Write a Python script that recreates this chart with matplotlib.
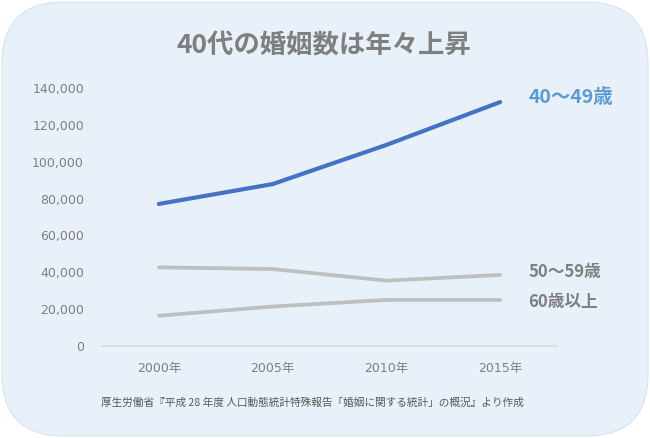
import matplotlib
matplotlib.use("Agg")
import matplotlib.pyplot as plt
from matplotlib.patches import FancyBboxPatch
from matplotlib.ticker import FuncFormatter

# data
years = ["2000年", "2005年", "2010年", "2015年"]
age_40s = [77100, 87900, 109200, 132500]
age_50s = [42600, 41700, 35400, 38500]
age_60s = [16300, 21300, 24900, 24900]

title = "40代の婚姻数は年々上昇"
source = "厚生労働省『平成 28 年度 人口動態統計特殊報告「婚姻に関する統計」の概況』より作成"

jp = "Noto Sans CJK JP"
mixed = ["DejaVu Sans", jp]
gray_text = "#7F7F7F"

fig = plt.figure(figsize=(6.5, 4.38), dpi=100, facecolor="white")

# rounded light-blue panel behind everything
panel = FancyBboxPatch((0.02, 0.02), 6.46, 4.34,
                       boxstyle="round,pad=0,rounding_size=0.62",
                       transform=fig.dpi_scale_trans,
                       facecolor="#E8F1FA", edgecolor="#D5E3F1", linewidth=0.8,
                       zorder=-1)
fig.patches.append(panel)

ax = fig.add_axes([102 / 650, (438 - 345.7) / 438, 455 / 650, 257.4 / 438])
ax.set_facecolor("none")

x = range(len(years))
ax.plot(x, age_40s, color="#4472C4", lw=3.0, solid_capstyle="round")
ax.plot(x, age_50s, color="#BFBFBF", lw=2.7, solid_capstyle="round")
ax.plot(x, age_60s, color="#BFBFBF", lw=2.7, solid_capstyle="round")

ax.set_xlim(-0.5, len(years) - 0.5)
ax.set_ylim(0, 140000)
ax.set_yticks(range(0, 140001, 20000))
ax.yaxis.set_major_formatter(FuncFormatter(lambda v, p: f"{int(v):,}"))
ax.set_xticks(list(x))
ax.set_xticklabels(years)

for s in ["top", "right", "left"]:
    ax.spines[s].set_visible(False)
ax.spines["bottom"].set_color("#D9D9D9")
ax.spines["bottom"].set_linewidth(1.2)
ax.tick_params(axis="both", length=0, colors=gray_text)
ax.tick_params(axis="y", pad=13)
ax.tick_params(axis="x", pad=12)
for lbl in ax.get_yticklabels() + ax.get_xticklabels():
    lbl.set_family(mixed)
    lbl.set_fontsize(9)

# series labels at the right end
ax.text(3.25, age_40s[-1] + 2700, "40〜49歳", color="#5B9BD5", fontsize=14,
        fontweight="bold", family=jp, va="center", ha="left", clip_on=False)
ax.text(3.25, age_50s[-1] + 1600, "50〜59歳", color=gray_text, fontsize=12,
        fontweight="bold", family=jp, va="center", ha="left", clip_on=False)
ax.text(3.25, age_60s[-1] - 1100, "60歳以上", color=gray_text, fontsize=12,
        fontweight="bold", family=jp, va="center", ha="left", clip_on=False)

fig.text(324 / 650, 1 - 46 / 438, title, color=gray_text, fontsize=19,
         fontweight="bold", family=jp, ha="center", va="center")
fig.text(312 / 650, 1 - 403 / 438, source, color="#595959", fontsize=7.7,
         family=jp, ha="center", va="center")

fig.savefig("out.png", dpi=100)
